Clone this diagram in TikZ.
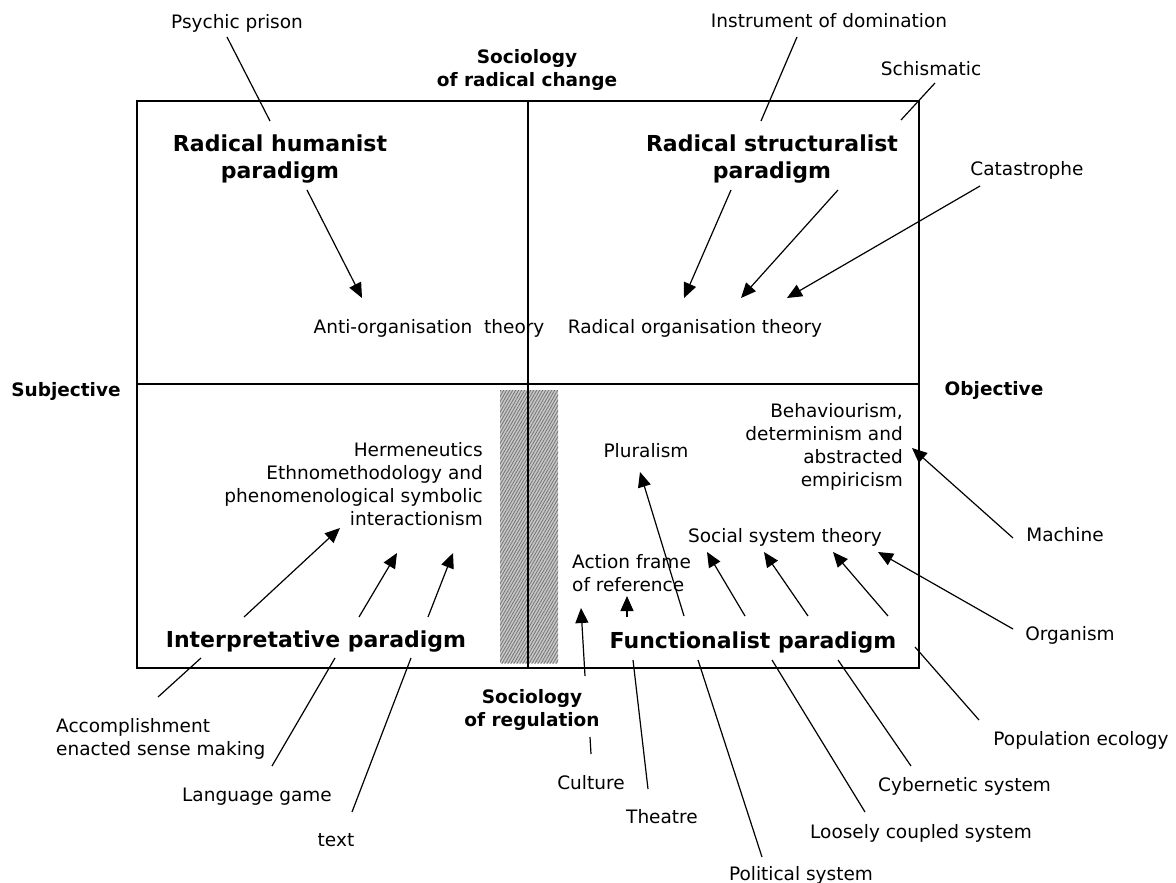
\documentclass[tikz,border=0pt]{standalone}
\usepackage{fontspec}
\setmainfont{DejaVu Sans}
\usetikzlibrary{arrows.meta,patterns.meta}
\begin{document}
\begin{tikzpicture}[x=1pt,y=-1pt,
  txt/.style={font=\fontsize{18.5}{22.7}\selectfont, inner sep=0pt, anchor=base},
  axislbl/.style={font=\bfseries\fontsize{18.5}{22.5}\selectfont, inner sep=0pt, anchor=base, align=center},
  para/.style={font=\bfseries\fontsize{22}{27}\selectfont, inner sep=0pt, anchor=base, align=center},
  lead/.style={line width=1.2pt},
  arr/.style={line width=1.2pt, -{Triangle[length=15pt,width=13pt]}},
  frame/.style={line width=1.5pt}
]
\useasboundingbox (0,0) rectangle (1176,883);

% shaded strip along the lower divider
\fill[black!22] (500,390) rectangle (558,663);
\fill[pattern={Lines[angle=60,distance=2.6pt,line width=0.8pt]}, pattern color=black!55] (500,390) rectangle (558,663);

% the four-quadrant frame
\draw[frame] (137,101) rectangle (919,668);
\draw[frame] (528,101) -- (528,668);
\draw[frame] (137,384) -- (919,384);

% axis labels (multi-line nodes are placed by their last baseline)
\node[axislbl] (radchange) at (527,86) {Sociology\\of radical change};
\node[axislbl] (regul) at (532,726) {Sociology\\of regulation};
\node[axislbl] (subj) at (66,396) {Subjective};
\node[axislbl] (obj) at (994,395) {Objective};

% paradigm titles
\node[para] (rh) at (280,178) {Radical humanist\\paradigm};
\node[para] (rs) at (772,178) {Radical structuralist\\paradigm};
\node[para] (interp) at (316,647) {Interpretative paradigm};
\node[para] (func) at (753,648) {Functionalist paradigm};

% theories inside the quadrants
\node[txt] (antiorg) at (429,333) {Anti-organisation\ \ theory};
\node[txt] (radorg) at (695,333) {Radical organisation theory};
\node[txt, align=right, anchor=base east] (herm) at (483,525) {Hermeneutics\\Ethnomethodology and\\phenomenological symbolic\\interactionism};
\node[txt] (plural) at (646,457) {Pluralism};
\node[txt, align=right, anchor=base east] (behav) at (903,486) {Behaviourism,\\determinism and\\abstracted\\empiricism};
\node[txt] (socsys) at (785,542) {Social system theory};
\node[txt, align=left, anchor=base west] (action) at (572,591) {Action frame\\of reference};

% metaphors around the frame
\node[txt] (psychic) at (237,29) {Psychic prison};
\node[txt] (instr) at (829,28) {Instrument of domination};
\node[txt] (schism) at (931,76) {Schismatic};
\node[txt] (catas) at (1027,175) {Catastrophe};
\node[txt] (machine) at (1065,541) {Machine};
\node[txt] (organism) at (1070,640) {Organism};
\node[txt] (popeco) at (1081,745) {Population ecology};
\node[txt, anchor=base west] (cyber) at (878,791) {Cybernetic system};
\node[txt, anchor=base west] (loose) at (810,838) {Loosely coupled system};
\node[txt] (polsys) at (801,880) {Political system};
\node[txt] (theatre) at (662,823) {Theatre};
\node[txt] (culture) at (591,789) {Culture};
\node[txt] (textlbl) at (336,846) {text};
\node[txt] (langgame) at (257,801) {Language game};
\node[txt, align=left, anchor=base west] (accomp) at (56,755) {Accomplishment\\enacted sense making};

% connector end points
\coordinate (psychicA) at (227,37);   \coordinate (psychicB) at (270,121);
\coordinate (instrA) at (797,37);     \coordinate (instrB) at (761,121);
\coordinate (schismA) at (935,83);    \coordinate (schismB) at (901,120);
\coordinate (rhA) at (307,190);       \coordinate (antiorgT) at (362,298);
\coordinate (rsA) at (731,190);       \coordinate (radorgT1) at (684,298);
\coordinate (rsB) at (838,190);       \coordinate (radorgT2) at (741,298);
\coordinate (catasA) at (980,186);    \coordinate (radorgT3) at (787,298);
\coordinate (interpA) at (244,617);   \coordinate (hermT1) at (340,528);
\coordinate (interpB) at (359,617);   \coordinate (hermT2) at (397,553);
\coordinate (interpC) at (428,617);   \coordinate (hermT3) at (453,553);
\coordinate (accompA) at (201,658);   \coordinate (accompB) at (158,697);
\coordinate (langA) at (335,658);     \coordinate (langB) at (272,766);
\coordinate (textA) at (411,658);     \coordinate (textB) at (352,812);
\coordinate (cultA) at (585,676);     \coordinate (actionT1) at (581,608);
\coordinate (cultB) at (590,737);     \coordinate (cultC) at (591,754);
\coordinate (funcA) at (627,617);     \coordinate (actionT2) at (627,596);
\coordinate (funcB) at (684,616);     \coordinate (pluralT) at (640,472);
\coordinate (funcC) at (745,616);     \coordinate (socsysT1) at (707,552);
\coordinate (funcD) at (808,616);     \coordinate (socsysT2) at (764,552);
\coordinate (funcE) at (888,616);     \coordinate (socsysT3) at (833,552);
\coordinate (organA) at (1013,629);   \coordinate (socsysT4) at (878,552);
\coordinate (machA) at (1013,538);    \coordinate (behavT) at (912,448);
\coordinate (theatA) at (633,660);    \coordinate (theatB) at (648,789);
\coordinate (polA) at (698,660);      \coordinate (polB) at (762,857);
\coordinate (looseA) at (772,660);    \coordinate (looseB) at (865,812);
\coordinate (cybA) at (838,660);      \coordinate (cybB) at (911,766);
\coordinate (popA) at (915,647);      \coordinate (popB) at (979,720);

% plain leader lines
\draw[lead] (psychicA) -- (psychicB);
\draw[lead] (instrA) -- (instrB);
\draw[lead] (schismA) -- (schismB);
\draw[lead] (accompA) -- (accompB);
\draw[lead] (langA) -- (langB);
\draw[lead] (textA) -- (textB);
\draw[lead] (cultB) -- (cultC);
\draw[lead] (theatA) -- (theatB);
\draw[lead] (polA) -- (polB);
\draw[lead] (looseA) -- (looseB);
\draw[lead] (cybA) -- (cybB);
\draw[lead] (popA) -- (popB);

% arrows
\draw[arr] (rhA) -- (antiorgT);
\draw[arr] (rsA) -- (radorgT1);
\draw[arr] (rsB) -- (radorgT2);
\draw[arr] (catasA) -- (radorgT3);
\draw[arr] (interpA) -- (hermT1);
\draw[arr] (interpB) -- (hermT2);
\draw[arr] (interpC) -- (hermT3);
\draw[arr] (cultA) -- (actionT1);
\draw[arr] (funcA) -- (actionT2);
\draw[arr] (funcB) -- (pluralT);
\draw[arr] (funcC) -- (socsysT1);
\draw[arr] (funcD) -- (socsysT2);
\draw[arr] (funcE) -- (socsysT3);
\draw[arr] (organA) -- (socsysT4);
\draw[arr] (machA) -- (behavT);
\end{tikzpicture}
\end{document}
